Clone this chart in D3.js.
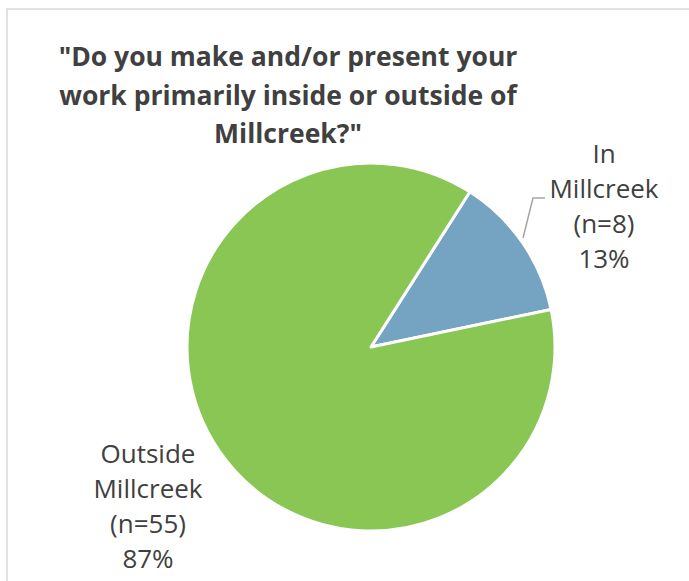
<!DOCTYPE html>
<html>
<head>
<meta charset="utf-8">
<script src="https://cdn.jsdelivr.net/npm/d3@7"></script>
<style>
  html, body { margin: 0; padding: 0; background: #ffffff; }
  svg { display: block; }
</style>
</head>
<body>
<svg id="chart" width="689" height="581"></svg>
<script>
// Survey responses: where respondents make/present their work
const categories = ["In Millcreek", "Outside Millcreek"];
const labelLines = [["In", "Millcreek"], ["Outside", "Millcreek"]];
const counts = [8, 55];
const colors = ["#75A3C2", "#8AC654"];
const titleLines = [
  "\"Do you make and/or present your",
  "work primarily inside or outside of",
  "Millcreek?\""
];

const svg = d3.select("#chart");

// Chart area frame (extends past the right and bottom edges)
svg.append("rect")
  .attr("x", 7).attr("y", 9)
  .attr("width", 720).attr("height", 620)
  .attr("fill", "#ffffff")
  .attr("stroke", "#d9d9d9")
  .attr("stroke-width", 1.5);

// Title
const title = svg.append("text")
  .attr("text-anchor", "middle")
  .attr("font-family", "'Open Sans', sans-serif")
  .attr("font-weight", "bold")
  .attr("font-size", 26.5)
  .attr("fill", "#404040");
titleLines.forEach((t, i) => {
  title.append("tspan").attr("x", 288).attr("y", 66 + i * 38.5).text(t);
});

// Pie
const cx = 371, cy = 347, r = 184;
const rot = 32.5 * Math.PI / 180;
const total = d3.sum(counts);
const data = categories.map((c, i) => ({ cat: c, n: counts[i], idx: i }));

const pie = d3.pie()
  .value(d => d.n)
  .sort(null)
  .startAngle(rot)
  .endAngle(rot + 2 * Math.PI);
const arc = d3.arc().innerRadius(0).outerRadius(r);
const arcs = pie(data);

const g = svg.append("g").attr("transform", `translate(${cx},${cy})`);
g.selectAll("path.slice")
  .data(arcs)
  .join("path")
  .attr("class", "slice")
  .attr("d", arc)
  .attr("fill", d => colors[d.data.idx])
  .attr("stroke", "#ffffff")
  .attr("stroke-width", 3)
  .attr("stroke-linejoin", "round");

// Data labels: category, count and share of total
const pct = d3.format(".0%");
const labelPos = [
  { x: 604, y: 163 },
  { x: 148, y: 463 }
];
const lineGap = 35;
arcs.forEach(a => {
  const d = a.data;
  const lines = labelLines[d.idx].concat([`(n=${d.n})`, pct(d.n / total)]);
  const t = svg.append("text")
    .attr("text-anchor", "middle")
    .attr("font-family", "'Open Sans', sans-serif")
    .attr("font-size", 26)
    .attr("fill", "#404040");
  lines.forEach((s, j) => {
    t.append("tspan")
      .attr("x", labelPos[d.idx].x)
      .attr("y", labelPos[d.idx].y + j * lineGap)
      .text(s);
  });
});

// Leader line for the small slice label
svg.append("polyline")
  .attr("points", [[545, 198], [533, 198], [523, 238]].map(p => p.join(",")).join(" "))
  .attr("fill", "none")
  .attr("stroke", "#a6a6a6")
  .attr("stroke-width", 1.5);
</script>
</body>
</html>
